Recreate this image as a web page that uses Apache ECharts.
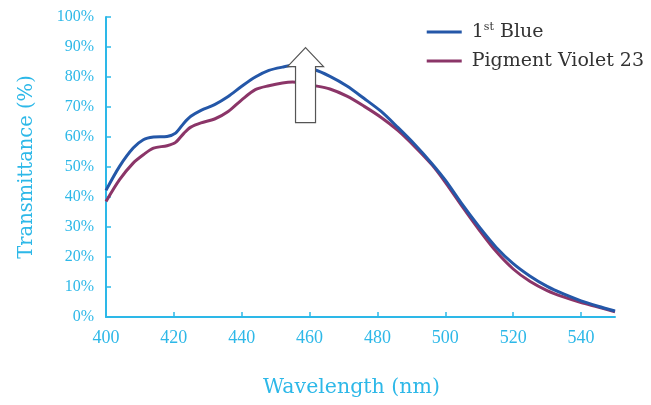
<!DOCTYPE html>
<html>
<head>
<meta charset="utf-8">
<script src="https://cdn.jsdelivr.net/npm/echarts@6/dist/echarts.min.js"></script>
<style>
    html, body { margin: 0; padding: 0; background: #fff; }
    #chart { width: 651px; height: 405px; }
</style>
</head>
<body>
<div id="chart"></div>
<script>
// wavelength (nm)
const wavelengths = [400, 404, 408, 411, 414, 418, 420.5, 423, 425, 428, 432, 436, 440, 444, 448, 452, 455, 461.5, 466, 471, 476, 481, 486, 491, 496, 500, 505, 510, 515, 520, 525, 530, 535, 540, 545, 550]
// transmittance (%)
const firstBlue = [42.2, 50.2, 56.3, 59.1, 60, 60.2, 61.3, 64.7, 66.9, 68.9, 70.8, 73.5, 76.9, 80, 82.2, 83.3, 83.8, 82.4, 80.2, 77, 72.9, 68.6, 63.2, 57.5, 51.2, 45.6, 37.5, 30, 23.2, 17.8, 13.6, 10.2, 7.6, 5.4, 3.6, 2]
const violet23 = [38.5, 45.8, 51.3, 54.1, 56.3, 57.1, 58.2, 61.3, 63.3, 64.7, 66, 68.5, 72.4, 75.8, 77.1, 78, 78.3, 77.1, 76, 73.6, 70.3, 66.6, 62.2, 56.8, 50.8, 44.9, 36.8, 29, 21.8, 16, 11.8, 8.8, 6.6, 4.8, 3.3, 1.7]

const cyan = "#2db8e8"
const serif = "DejaVu Serif"

const chart = echarts.init(document.getElementById("chart"))

const pairs = (ys) => wavelengths.map((x, i) => [x, ys[i]])

let option = {
    animation: false,
    grid: { left: 106, right: 36, top: 17, bottom: 88 },
    legend: {
        right: 2,
        top: 17,
        orient: "vertical",
        icon: "rect",
        itemWidth: 35,
        itemHeight: 3,
        itemGap: 10,
        textStyle: {
            fontFamily: serif,
            fontSize: 19,
            color: "#333",
            padding: [0, 0, 0, 5],
            rich: {
                sup: { fontFamily: serif, fontSize: 11, color: "#333", verticalAlign: "top", padding: [0, 0, 9, 0] },
            },
        },
        formatter: (name) => name === "1st Blue" ? "1{sup|st} Blue" : name,
        data: ["1st Blue", "Pigment Violet 23"],
    },
    xAxis: {
        type: "value",
        min: 400,
        max: 550,
        interval: 20,
        name: "Wavelength (nm)",
        nameLocation: "middle",
        nameGap: 60,
        nameTextStyle: { color: cyan, fontFamily: serif, fontSize: 20.5, padding: [0, 18, 0, 0] },
        axisLine: { lineStyle: { color: cyan, width: 2 } },
        axisTick: { inside: true, length: 5, lineStyle: { color: cyan, width: 1.5 } },
        axisLabel: { color: cyan, fontFamily: "Liberation Serif", fontSize: 18, margin: 12, showMaxLabel: false },
        splitLine: { show: false },
    },
    yAxis: {
        type: "value",
        min: 0,
        max: 100,
        interval: 10,
        name: "Transmittance (%)",
        nameLocation: "middle",
        nameGap: 69,
        nameTextStyle: { color: cyan, fontFamily: serif, fontSize: 19.5 },
        axisLine: { show: true, lineStyle: { color: cyan, width: 2 } },
        axisTick: { show: true, inside: true, length: 5, lineStyle: { color: cyan, width: 1.5 } },
        axisLabel: { color: cyan, fontFamily: "Liberation Serif", fontSize: 16, margin: 12, formatter: "{value}%" },
        splitLine: { show: false },
    },
    series: [
        {
            name: "1st Blue",
            type: "line",
            data: pairs(firstBlue),
            smooth: 0.3,
            showSymbol: false,
            lineStyle: { color: "#2457a8", width: 3 },
            itemStyle: { color: "#2457a8" },
            z: 3,
        },
        {
            name: "Pigment Violet 23",
            type: "line",
            data: pairs(violet23),
            smooth: 0.3,
            showSymbol: false,
            lineStyle: { color: "#8b3568", width: 3 },
            itemStyle: { color: "#8b3568" },
            z: 2,
        },
    ],
}

chart.setOption(option)

// hollow up-arrow annotation, anchored by its tip in data space
const tip = chart.convertToPixel({ gridIndex: 0 }, [458.8, 89.8])
chart.setOption({
    graphic: [{
        type: "polygon",
        x: tip[0],
        y: tip[1],
        z: 10,
        shape: { points: [[0, 0], [18, 19], [10, 19], [10, 75], [-10, 75], [-10, 19], [-18, 19]] },
        style: { fill: "#fff", stroke: "#555", lineWidth: 1.2 },
    }],
})
</script>
</body>
</html>
